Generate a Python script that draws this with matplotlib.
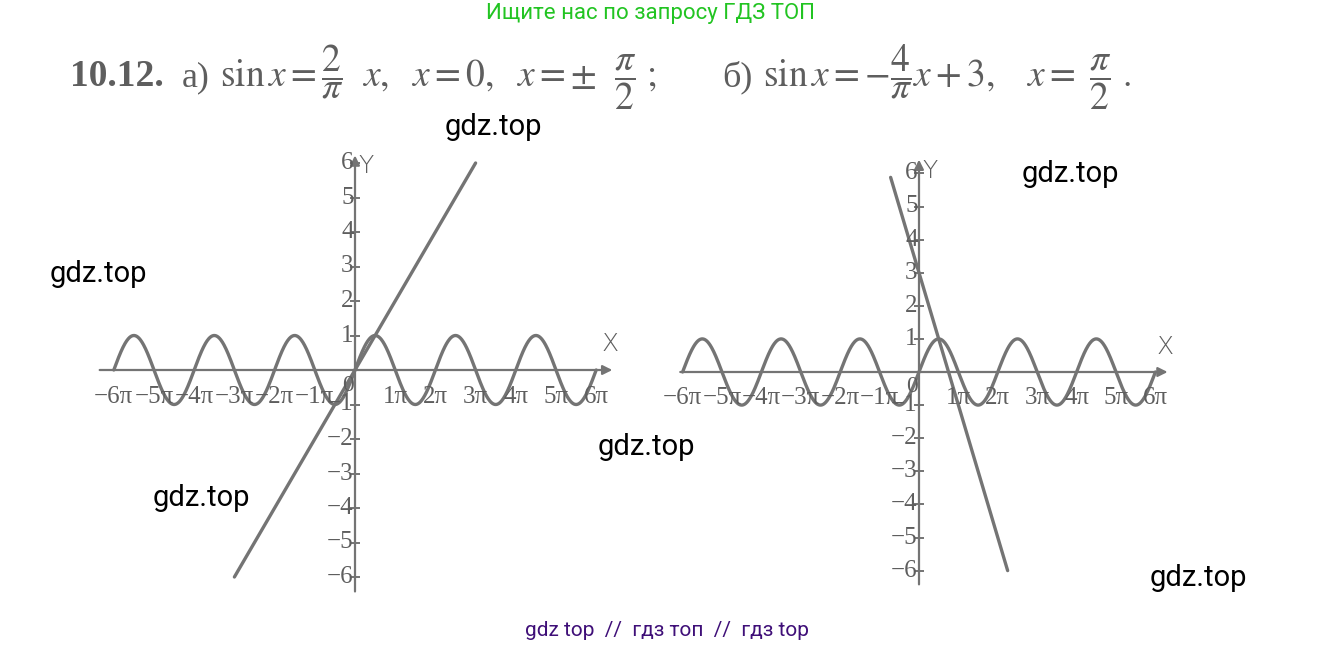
import numpy as np
import matplotlib
matplotlib.use('Agg')
import matplotlib.pyplot as plt

plt.rcParams['mathtext.fontset'] = 'stix'

# данные
ticks_pi = [-6, -5, -4, -3, -2, -1, 1, 2, 3, 4, 5, 6]
ticks_y = [-6, -5, -4, -3, -2, -1, 1, 2, 3, 4, 5, 6]
sin_range_pi = [-6, 6]
line_a_x = [-3 * np.pi, 3 * np.pi]     # y = 2x/pi
line_a_y = [-6, 6]
line_b_x = [-0.72 * np.pi, 2.25 * np.pi]  # y = -4x/pi + 3
line_b_y = [5.88, -6.0]
axis_a = [-6.42, 6.47, -6.5, 6.3]   # x от/до (в pi), y от/до
axis_b = [-6.13, 6.38, -6.5, 6.5]

W, H = 1336, 648
GREY = '#5e5e5e'
LINE = '#747474'

fig = plt.figure(figsize=(W / 100, H / 100), dpi=100)


def make_ax(ox, oy, sx, sy, box):
    # box в пикселях: лево, верх, право, низ
    l, t, r, b = box
    ax = fig.add_axes([l / W, 1 - b / H, (r - l) / W, (b - t) / H])
    ax.set_xlim((l - ox) / sx * np.pi, (r - ox) / sx * np.pi)
    ax.set_ylim((oy - b) / sy, (oy - t) / sy)
    ax.axis('off')
    return ax


def draw_chart(ax, ext, lx, ly):
    x0, x1, y0, y1 = ext
    ax.annotate('', xy=(x1 * np.pi, 0), xytext=(x0 * np.pi, 0),
                arrowprops=dict(arrowstyle='-|>', color=LINE, lw=1.6, mutation_scale=14))
    ax.annotate('', xy=(0, y1), xytext=(0, y0),
                arrowprops=dict(arrowstyle='-|>', color=LINE, lw=1.6, mutation_scale=14))
    ax.plot(np.zeros(len(ticks_y)), ticks_y, ls='none', marker='_', ms=7, mew=1.4, color=LINE)
    for v in ticks_y:
        lab = str(v) if v > 0 else '\u2212' + str(-v)
        ax.text(-0.1, v, lab, ha='right', va='center', fontsize=18,
                family='Liberation Serif', color=GREY)
    for k in ticks_pi:
        lab = ('\u2212' if k < 0 else '') + str(abs(k)) + '\u03c0'
        ax.text(k * np.pi, -0.78, lab, ha='center', va='center', fontsize=18,
                family='Liberation Serif', color=GREY)
    ax.text(-0.05, -0.45, '0', ha='right', va='center', fontsize=17,
            family='Liberation Serif', color=GREY)
    ax.text(0.3, y1 - 0.05, 'Y', ha='left', va='top', fontsize=18,
            family='DejaVu Sans', weight='light', color=GREY)
    ax.text(x1 * np.pi - 0.4, 0.4, 'X', ha='center', va='bottom', fontsize=18,
            family='DejaVu Sans', weight='light', color=GREY)

    xs = np.linspace(sin_range_pi[0] * np.pi, sin_range_pi[1] * np.pi, 1200)
    ax.plot(xs, np.sin(xs), color=LINE, lw=2.4, solid_capstyle='round')
    ax.plot(lx, ly, color=LINE, lw=2.4, solid_capstyle='round')


ax_a = make_ax(355, 370, 40.2, 34.5, (40, 130, 650, 620))
draw_chart(ax_a, axis_a, line_a_x, line_a_y)

ax_b = make_ax(919, 372, 39.4, 33.1, (660, 130, 1200, 620))
draw_chart(ax_b, axis_b, line_b_x, line_b_y)

# заголовок задачи
tk = dict(color=GREY, va='baseline', transform=fig.transFigure)
fig.text(70 / W, 1 - 86 / H, '10.12.', fontsize=27, weight='bold', family='Liberation Serif', **tk)
fig.text(182 / W, 1 - 86 / H, 'а)', fontsize=26, family='Liberation Serif', **tk)
fig.text(220 / W, 1 - 86 / H,
         r'$\mathrm{sin}\,x = \dfrac{2}{\pi}\ \ x,\ \ x = 0,\ \ x = \pm\ \ \dfrac{\pi}{2}\ ;$',
         fontsize=27, **tk)
fig.text(722 / W, 1 - 86 / H, 'б)', fontsize=26, family='Liberation Serif', **tk)
fig.text(763 / W, 1 - 86 / H,
         r'$\mathrm{sin}\,x = -\dfrac{4}{\pi}x + 3,\ \ \ x =\ \dfrac{\pi}{2}\ .$',
         fontsize=27, **tk)

# водяные знаки
marks = [(493, 127), (1070, 174), (98, 274), (646, 447), (201, 498), (1198, 578)]
for px, py in marks:
    fig.text(px / W, 1 - py / H, 'gdz.top', fontsize=21, family='Roboto', color='black',
             ha='center', va='center')
fig.text(651 / W, 1 - 14 / H, 'Ищите нас по запросу ГДЗ ТОП', fontsize=16, family='Roboto',
         color='#22c422', ha='center', va='center')
fig.text(667 / W, 1 - 631 / H, 'gdz top  //  гдз топ  //  гдз top', fontsize=15, family='Roboto',
         color='#3f0f78', ha='center', va='center')

fig.savefig('out.png', dpi=100)
